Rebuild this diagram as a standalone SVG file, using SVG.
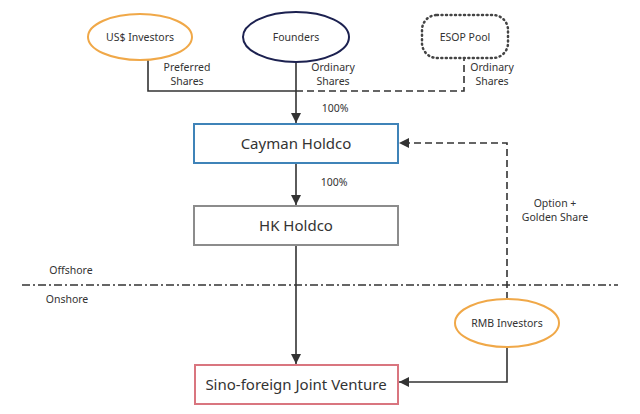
<svg xmlns="http://www.w3.org/2000/svg" width="640" height="414" viewBox="0 0 640 414">
<defs>
<marker id="arr" viewBox="0 0 10 10" refX="10" refY="5" markerWidth="10" markerHeight="10" markerUnits="userSpaceOnUse" orient="auto">
<path d="M0,0 L10,5 L0,10 z" fill="#333"/>
</marker>
<style>
text{font-family:"Noto Sans","Open Sans",sans-serif;fill:#333;text-anchor:middle}
.s{font-size:10.5px}
.b{font-size:15px}
.c{fill:none;stroke:#333;stroke-width:1.6}
.d{stroke-dasharray:7,4}
</style>
</defs>
<rect width="640" height="414" fill="#fff"/>
<g id="connectors">
<polyline class="c" points="148,60 148,91 296,91"/>
<line class="c" x1="296" y1="62" x2="296" y2="123" marker-end="url(#arr)"/>
<polyline class="c d" points="296,91 464,91 464,58"/>
<line class="c" x1="296" y1="163" x2="296" y2="205" marker-end="url(#arr)"/>
<line class="c" x1="296" y1="245" x2="296" y2="364" marker-end="url(#arr)"/>
<polyline class="c d" points="507,299 507,143 399,143" marker-end="url(#arr)"/>
<polyline class="c" points="507,347 507,382 399,382" marker-end="url(#arr)"/>
<line x1="22" y1="285" x2="618" y2="285" stroke="#333" stroke-width="1.4" stroke-dasharray="8,3,2,3"/>
</g>
<g id="labels">
<text class="s" x="187" y="71">Preferred</text>
<text class="s" x="187" y="85">Shares</text>
<text class="s" x="333" y="71">Ordinary</text>
<text class="s" x="333" y="85">Shares</text>
<text class="s" x="492" y="71">Ordinary</text>
<text class="s" x="492" y="85">Shares</text>
<text class="s" x="335" y="112">100%</text>
<text class="s" x="334" y="186">100%</text>
<text class="s" x="555" y="207">Option +</text>
<text class="s" x="555" y="221">Golden Share</text>
<text class="s" x="71" y="274">Offshore</text>
<text class="s" x="67" y="303">Onshore</text>
</g>
<g id="us-investors">
<ellipse cx="140" cy="37" rx="52" ry="23" fill="#fff" stroke="#f0a848" stroke-width="2"/>
<text class="s" x="140" y="41">US$ Investors</text>
</g>
<g id="founders">
<ellipse cx="296" cy="37" rx="53" ry="25" fill="#fff" stroke="#1c2150" stroke-width="2"/>
<text class="s" x="296" y="41">Founders</text>
</g>
<g id="esop">
<rect x="422" y="15" width="86" height="43" rx="15" fill="#fff" stroke="#444" stroke-width="2.5" stroke-dasharray="1,3.5" stroke-linecap="round"/>
<text class="s" x="465" y="41">ESOP Pool</text>
</g>
<g id="cayman">
<rect x="194" y="124" width="204" height="39" fill="#fff" stroke="#3f83b8" stroke-width="2"/>
<text class="b" x="296" y="149">Cayman Holdco</text>
</g>
<g id="hk">
<rect x="194" y="206" width="204" height="39" fill="#fff" stroke="#8c8c8c" stroke-width="2"/>
<text class="b" x="296" y="231">HK Holdco</text>
</g>
<g id="rmb">
<ellipse cx="507" cy="323" rx="52" ry="24" fill="#fff" stroke="#f0a848" stroke-width="2"/>
<text class="s" x="507" y="327">RMB Investors</text>
</g>
<g id="jv">
<rect x="195" y="365" width="203" height="39" fill="#fff" stroke="#d9757f" stroke-width="2"/>
<text class="b" x="296" y="390">Sino-foreign Joint Venture</text>
</g>
</svg>
